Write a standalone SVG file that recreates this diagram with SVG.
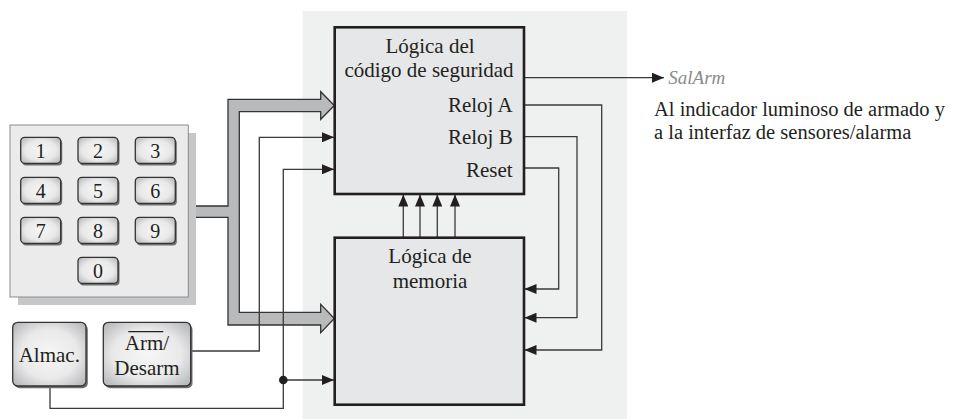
<svg xmlns="http://www.w3.org/2000/svg" width="971" height="419" viewBox="0 0 971 419" font-family="'Liberation Serif', 'Times New Roman', serif">
<style>
text{fill:#231f20}
.t{font-size:21px}
.k{font-size:20px;text-anchor:middle}
.blk{fill:#e6e7e8;stroke:#231f20;stroke-width:2.6}
.key{fill:url(#kg);stroke:#333;stroke-width:1.3}
.ksh{fill:#6d6e70}
.lna{fill:none;stroke:#3a3a3a;stroke-width:1.3;marker-end:url(#ah)}
</style>
<defs>
<radialGradient id="kg" cx="50%" cy="50%" r="65%">
<stop offset="0" stop-color="#f6f6f7"/>
<stop offset="0.6" stop-color="#e9e9ea"/>
<stop offset="1" stop-color="#b9babc"/>
</radialGradient>
<marker id="ah" markerUnits="userSpaceOnUse" markerWidth="12" markerHeight="10" viewBox="0 0 12 10" refX="12" refY="5" orient="auto">
<path d="M0,0 L12,5 L0,10 Z" fill="#231f20"/>
</marker>
</defs>
<rect x="302.7" y="11" width="324.3" height="408" fill="#eff0f0"/>

<g id="connectors">
<path id="bus" d="M188,206 H228 V99.3 H320.7 V91.7 L334.3,105.5 L320.7,119.3 V111.7 H239.3 V312.3 H320.7 V304.3 L334.3,318.5 L320.7,332.7 V325 H228 V217.3 H188" fill="#b9babc" stroke="#333" stroke-width="1.3" stroke-linejoin="miter"/>
<path class="lna" d="M190.7,351 H259.3 V137.3 H334"/>
<path class="lna" d="M50,386 V408.3 H283.3 V169.3 H334"/>
<path class="lna" d="M283.3,380 H334"/>
<circle cx="283.3" cy="380" r="4.3" fill="#231f20"/>
<path class="lna" d="M524,77.7 H664"/>
<path class="lna" d="M524,105 H601.7 V350 H524.5"/>
<path class="lna" d="M524,136.7 H577 V317.7 H524.5"/>
<path class="lna" d="M524,168 H558.7 V289 H524.5"/>
<path class="lna" d="M403.3,237.7 V194.5"/>
<path class="lna" d="M420,237.7 V194.5"/>
<path class="lna" d="M437.3,237.7 V194.5"/>
<path class="lna" d="M455,237.7 V194.5"/>
</g>

<g id="keypad">
<rect x="18" y="133" width="178" height="172" fill="#c6c7c9"/>
<rect x="10" y="125" width="178.3" height="172" fill="#ebebec" stroke="#8a8b8d" stroke-width="1"/>
<g id="key1"><rect class="ksh" x="22.2" y="139.3" width="40" height="26.3" rx="4"/><rect class="key" x="20.7" y="137.3" width="40" height="26" rx="4"/><text class="k" x="40.7" y="158">1</text></g>
<g id="key2"><rect class="ksh" x="79.5" y="139.3" width="40" height="26.3" rx="4"/><rect class="key" x="78" y="137.3" width="40" height="26" rx="4"/><text class="k" x="98" y="158">2</text></g>
<g id="key3"><rect class="ksh" x="136.8" y="139.3" width="40" height="26.3" rx="4"/><rect class="key" x="135.3" y="137.3" width="40" height="26" rx="4"/><text class="k" x="155.3" y="158">3</text></g>
<g id="key4"><rect class="ksh" x="22.2" y="179.3" width="40" height="26.3" rx="4"/><rect class="key" x="20.7" y="177.3" width="40" height="26" rx="4"/><text class="k" x="40.7" y="198">4</text></g>
<g id="key5"><rect class="ksh" x="79.5" y="179.3" width="40" height="26.3" rx="4"/><rect class="key" x="78" y="177.3" width="40" height="26" rx="4"/><text class="k" x="98" y="198">5</text></g>
<g id="key6"><rect class="ksh" x="136.8" y="179.3" width="40" height="26.3" rx="4"/><rect class="key" x="135.3" y="177.3" width="40" height="26" rx="4"/><text class="k" x="155.3" y="198">6</text></g>
<g id="key7"><rect class="ksh" x="22.2" y="219.3" width="40" height="26.3" rx="4"/><rect class="key" x="20.7" y="217.3" width="40" height="26" rx="4"/><text class="k" x="40.7" y="238">7</text></g>
<g id="key8"><rect class="ksh" x="79.5" y="219.3" width="40" height="26.3" rx="4"/><rect class="key" x="78" y="217.3" width="40" height="26" rx="4"/><text class="k" x="98" y="238">8</text></g>
<g id="key9"><rect class="ksh" x="136.8" y="219.3" width="40" height="26.3" rx="4"/><rect class="key" x="135.3" y="217.3" width="40" height="26" rx="4"/><text class="k" x="155.3" y="238">9</text></g>
<g id="key0"><rect class="ksh" x="79.5" y="259.3" width="40" height="26.3" rx="4"/><rect class="key" x="78" y="257.3" width="40" height="26" rx="4"/><text class="k" x="98" y="278">0</text></g>
</g>

<g id="almac">
<rect class="ksh" x="14.5" y="324.5" width="73.3" height="63.7" rx="5"/>
<rect class="key" x="12.7" y="322.3" width="73.3" height="63.7" rx="5"/>
<text class="t" x="49.3" y="361.5" text-anchor="middle">Almac.</text>
</g>

<g id="armdesarm">
<rect class="ksh" x="105.1" y="324.5" width="87.4" height="63.7" rx="5"/>
<rect class="key" x="103.3" y="322.3" width="87.4" height="63.7" rx="5"/>
<text class="t" x="147" y="350" text-anchor="middle">Arm/</text>
<line x1="128.3" y1="331.7" x2="163.3" y2="331.7" stroke="#231f20" stroke-width="1.2"/>
<text class="t" x="147" y="375" text-anchor="middle">Desarm</text>
</g>

<g id="codigo">
<rect class="blk" x="334.7" y="27.3" width="189.3" height="166.7"/>
<text class="t" x="430" y="53" text-anchor="middle">Lógica del</text>
<text class="t" x="429" y="77" text-anchor="middle">código de seguridad</text>
<text class="t" x="512.7" y="112" text-anchor="end">Reloj  A</text>
<text class="t" x="512.7" y="144" text-anchor="end">Reloj  B</text>
<text class="t" x="512.7" y="176.5" text-anchor="end">Reset</text>
</g>

<g id="memoria">
<rect class="blk" x="334.7" y="237.7" width="189.3" height="167"/>
<text class="t" x="430" y="263" text-anchor="middle">Lógica de</text>
<text class="t" x="430" y="288" text-anchor="middle">memoria</text>
</g>

<g id="salarm">
<text x="668.3" y="83.5" style="font-size:19px;font-style:italic;fill:#8a8b8d">SalArm</text>
<text x="654" y="116" style="font-size:20.5px">Al indicador luminoso de armado y</text>
<text x="654" y="138.5" style="font-size:20.5px">a la interfaz de sensores/alarma</text>
</g>
</svg>
